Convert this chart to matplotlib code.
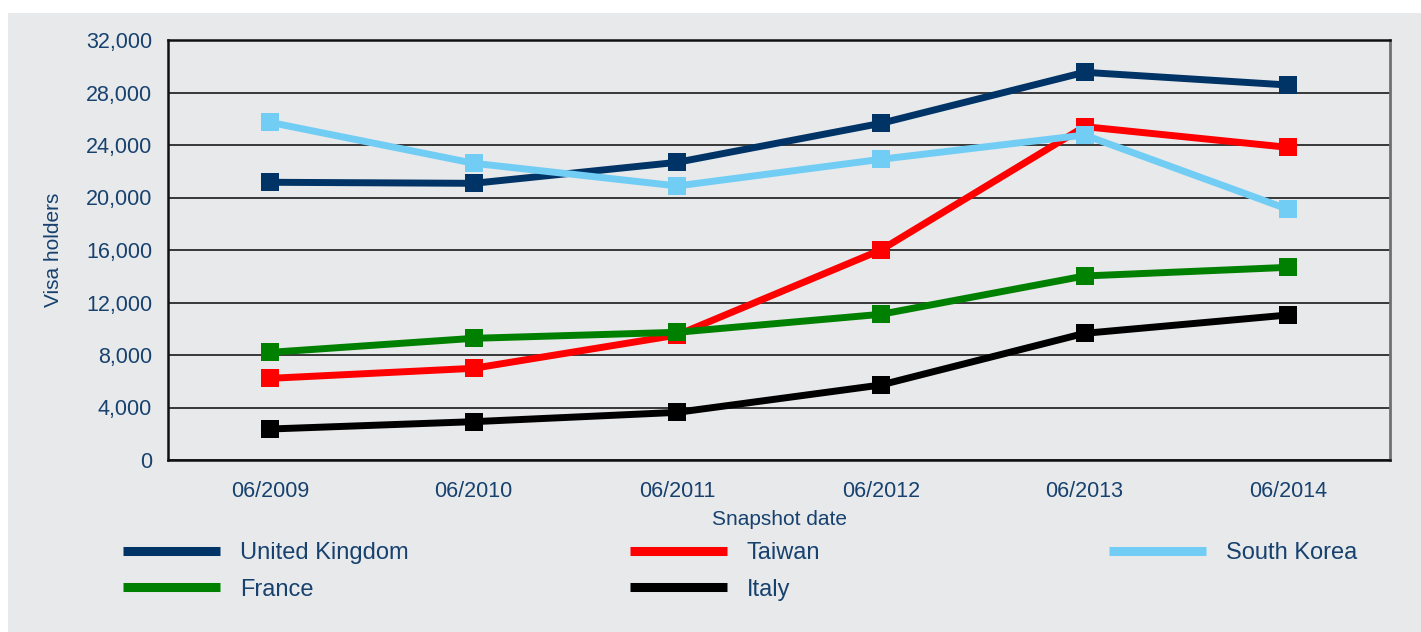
import matplotlib
matplotlib.use("Agg")
import matplotlib.pyplot as plt
from matplotlib.lines import Line2D
from matplotlib.patches import Rectangle
from matplotlib.ticker import FuncFormatter

plt.rcParams['font.family'] = ['Liberation Sans', 'DejaVu Sans']

dates = ["06/2009", "06/2010", "06/2011", "06/2012", "06/2013", "06/2014"]
uk = [21160, 21080, 22680, 25650, 29540, 28570]
taiwan = [6220, 6985, 9520, 16000, 25400, 23820]
south_korea = [25730, 22610, 20880, 22910, 24760, 19100]
france = [8200, 9270, 9730, 11100, 14020, 14680]
italy = [2360, 2920, 3630, 5714, 9650, 11050]
yticks = [0, 4000, 8000, 12000, 16000, 20000, 24000, 28000, 32000]

C_UK = "#003466"
C_TW = "#ff0000"
C_SK = "#72cdf4"
C_FR = "#008000"
C_IT = "#000000"
TXT = "#17416e"
BG = "#e8e9eb"

W, H = 1421, 632
fig = plt.figure(figsize=(W / 100, H / 100), dpi=100, facecolor="white")
fig.patches.append(Rectangle((8 / W, 0), 1 - 8 / W, 1 - 13 / H,
                             transform=fig.transFigure, facecolor=BG,
                             edgecolor="none", zorder=-10))

ax = fig.add_axes([168 / W, 1 - 460 / H, 1222 / W, 420 / H])
ax.set_facecolor(BG)
x = list(range(len(dates)))

series = [(uk, C_UK), (taiwan, C_TW), (italy, C_IT), (france, C_FR), (south_korea, C_SK)]
for vals, col in series:
    ax.plot(x, vals, color=col, lw=5, marker="s", markersize=12.5,
            markeredgewidth=0, solid_capstyle="butt", zorder=3)

ax.set_xlim(-0.5, 5.5)
ax.set_ylim(0, 32000)
ax.set_yticks(yticks)
ax.yaxis.set_major_formatter(FuncFormatter(lambda v, p: f"{int(v):,}"))
ax.set_xticks(x)
ax.set_xticklabels(dates)
ax.tick_params(axis="both", length=0, labelsize=15.5, labelcolor=TXT)
ax.tick_params(axis="y", pad=11.5)
ax.tick_params(axis="x", pad=15)
ax.yaxis.grid(True, color="#2a2a2a", lw=1.3, zorder=1)
ax.set_axisbelow(True)

for s in ["left", "bottom", "top"]:
    ax.spines[s].set_color("#111111")
    ax.spines[s].set_linewidth(1.8)
ax.spines["right"].set_color("#707070")
ax.spines["right"].set_linewidth(2)

ax.set_ylabel("Visa holders", fontsize=15, color=TXT, labelpad=16)
ax.set_xlabel("Snapshot date", fontsize=15, color=TXT, labelpad=6)

def h(col):
    return Line2D([], [], color=col, lw=6.5, solid_capstyle="butt")

common = dict(frameon=False, fontsize=17, handlelength=4.1, handletextpad=0.85,
              labelspacing=0.62, borderpad=0, borderaxespad=0, loc="upper left")
for handles, labels, xp in [([h(C_UK), h(C_FR)], ["United Kingdom", "France"], 123),
                            ([h(C_TW), h(C_IT)], ["Taiwan", "Italy"], 630),
                            ([h(C_SK)], ["South Korea"], 1109)]:
    leg = fig.legend(handles, labels, bbox_to_anchor=(xp / W, 1 - 542 / H), **common)
    for t in leg.get_texts():
        t.set_color(TXT)

fig.savefig("out.png", dpi=100, facecolor="white")
